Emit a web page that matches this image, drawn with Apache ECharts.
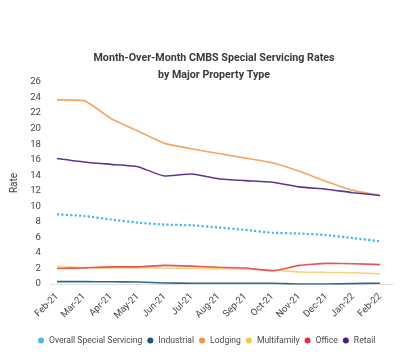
<!DOCTYPE html>
<html><head><meta charset="utf-8">
<script src="https://cdn.jsdelivr.net/npm/echarts@6/dist/echarts.min.js"></script>
<style>html,body{margin:0;padding:0;background:#fff}#c{width:400px;height:355px}</style>
</head><body><div id="c"></div>
<script>
const categories = ['Feb-21','Mar-21','Apr-21','May-21','Jun-21','Jul-21','Aug-21','Sep-21','Oct-21','Nov-21','Dec-21','Jan-22','Feb-22'];
const overall     = [8.97, 8.76, 8.3, 7.9, 7.65, 7.56, 7.27, 6.96, 6.6, 6.5, 6.3, 5.9, 5.5];
const industrial  = [0.3, 0.3, 0.28, 0.25, 0.13, 0.1, 0.1, 0.1, 0.1, 0.0, 0.0, 0.05, 0.1];
const lodging     = [23.7, 23.6, 21.3, 19.7, 18.1, 17.4, 16.8, 16.2, 15.6, 14.5, 13.2, 12.05, 11.4];
const multifamily = [2.27, 2.1, 2.05, 2.05, 2.05, 2.0, 1.95, 1.9, 1.8, 1.55, 1.5, 1.45, 1.3];
const office      = [2.0, 2.08, 2.2, 2.2, 2.4, 2.3, 2.15, 2.05, 1.7, 2.4, 2.65, 2.6, 2.5];
const retail      = [16.15, 15.7, 15.4, 15.1, 13.9, 14.15, 13.55, 13.3, 13.1, 12.5, 12.2, 11.75, 11.4];
const yTicks = [0,2,4,6,8,10,12,14,16,18,20,22,24,26];

const seriesDefs = [
  {name:'Overall Special Servicing', data: overall, color:'#4cb8ef', line:'#45b4ee', type:'dotted', width:2.2},
  {name:'Industrial', data: industrial, color:'#1b5679', line:'#2e6a88', type:'solid', width:1.6},
  {name:'Lodging', data: lodging, color:'#f7903f', line:'#f4a564', type:'solid', width:1.6},
  {name:'Multifamily', data: multifamily, color:'#f7c843', line:'#f5d57a', type:'solid', width:1.6},
  {name:'Office', data: office, color:'#ea2e42', line:'#e8525e', type:'solid', width:1.6},
  {name:'Retail', data: retail, color:'#4b1c7c', line:'#5e3690', type:'solid', width:1.6}
];

const chart = echarts.init(document.getElementById('c'), null, {renderer:'canvas'});
chart.setOption({
  backgroundColor:'#fff',
  animation:false,
  textStyle:{fontFamily:'Roboto'},
  title:{
    text:'Month-Over-Month CMBS Special Servicing Rates\nby Major Property Type',
    left:209, top:45, textAlign:'center',
    textStyle:{fontFamily:'Roboto', fontWeight:'bold', fontSize:10.7, color:'#3a3a3a', lineHeight:17}
  },
  legend:{
    left:33, top:331, width:380, icon:'circle', itemWidth:6, itemHeight:6, itemGap:5,
    textStyle:{fontFamily:'Roboto', fontSize:8.6, color:'#4a4a4a'},
    data: seriesDefs.map(s=>({name:s.name, itemStyle:{color:s.color}}))
  },
  grid:{left:50, right:7, top:82, bottom:71, containLabel:false},
  xAxis:{
    type:'value', min:-0.26, max:12.48, offset:5,
    splitLine:{show:false},
    axisLine:{show:true, lineStyle:{color:'#e0e0e0', width:1}},
    axisTick:{show:false},
    axisLabel:{
      customValues: categories.map((c,i)=>i),
      formatter: v => categories[Math.round(v)] || '',
      rotate:45, margin:6, fontSize:9.5, color:'#444', fontFamily:'Roboto'
    }
  },
  yAxis:{
    type:'value', min:0, max:26, interval:2,
    name:'Rate', nameLocation:'middle', nameGap:27, nameRotate:90,
    nameTextStyle:{fontSize:10, color:'#444', fontFamily:'Roboto'},
    splitLine:{show:false}, axisLine:{show:false}, axisTick:{show:false},
    axisLabel:{margin:9, fontSize:9.6, color:'#444', fontFamily:'Roboto',
      customValues: yTicks}
  },
  series: seriesDefs.map(s=>({
    name:s.name, type:'line', showSymbol:false, symbol:'none', smooth:0.15,
    data: s.data.map((v,i)=>[i,v]),
    itemStyle:{color:s.color},
    lineStyle:{color:s.line, width:s.width, type:s.type}
  }))
});
</script></body></html>
